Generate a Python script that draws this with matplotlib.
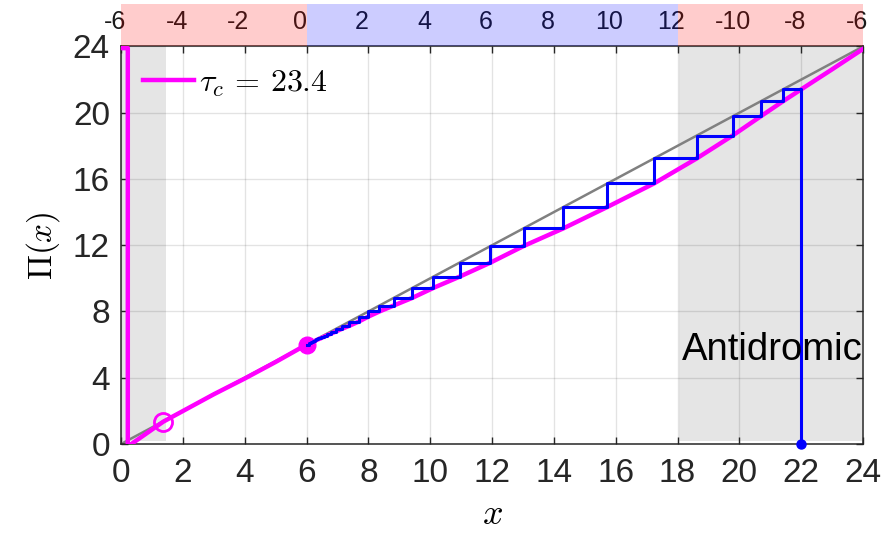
import matplotlib
matplotlib.use('Agg')
import matplotlib.pyplot as plt

plt.rcParams['font.family'] = ['Liberation Sans', 'DejaVu Sans']
plt.rcParams['mathtext.fontset'] = 'cm'

# ---------------- data ----------------
# return map Pi(x): left branch (with wrap-around jump) and right branch
curve_left_x = [0.0, 0.22, 0.22, 1.37, 3.0, 4.0, 5.0, 6.0]
curve_left_y = [23.9, 23.9, -0.15, 1.35, 3.0, 3.95, 4.95, 6.0]
curve_right_x = [6.0, 6.08, 6.1, 6.12, 6.15, 6.18, 6.22, 6.27, 6.32, 6.38, 6.46, 6.55,
                 6.66, 6.79, 6.95, 7.14, 7.39, 7.69, 8.0, 8.36, 8.82, 9.42, 10.1,
                 10.95, 11.95, 13.02, 14.31, 15.73, 17.24, 18.62, 19.78, 20.69,
                 21.41, 22.0, 23.0, 24.0]
curve_right_y = [6.0, 6.066, 6.08, 6.1, 6.12, 6.15, 6.18, 6.22, 6.27, 6.32, 6.38, 6.46,
                 6.55, 6.66, 6.79, 6.95, 7.14, 7.39, 7.69, 8.0, 8.36, 8.82, 9.42,
                 10.1, 10.95, 11.95, 13.02, 14.31, 15.73, 17.24, 18.62, 19.78,
                 20.69, 21.41, 22.62, 23.85]
# cobweb iterates x_{n+1} = Pi(x_n)
iterates = [22.0, 21.41, 20.69, 19.78, 18.62, 17.24, 15.73, 14.31, 13.02, 11.95,
            10.95, 10.1, 9.42, 8.82, 8.36, 8.0, 7.69, 7.39, 7.14, 6.95, 6.79, 6.66,
            6.55, 6.46, 6.38, 6.32, 6.27, 6.22, 6.18, 6.15, 6.12, 6.1, 6.08, 6.0]
fixed_stable = (6.0, 6.0)
fixed_unstable = (1.37, 1.3)
start_point = (22.0, 0.0)
# shaded regions (x0, x1, y0, y1)
shade_regions = [(0.0, 1.44, 0.18, 24.0), (18.06, 23.96, 0.2, 24.0)]
# top bar
top_spans = [(0, 6, 'r'), (6, 18, 'b'), (18, 24, 'r')]
top_tick_pos = [0, 2, 4, 6, 8, 10, 12, 14, 16, 18, 20, 22, 24]
top_tick_labels = ['-6', '-4', '-2', '0', '2', '4', '6', '8', '10', '12', '-10', '-8', '-6']
xticks = [0, 2, 4, 6, 8, 10, 12, 14, 16, 18, 20, 22, 24]
yticks = [0, 4, 8, 12, 16, 20, 24]
tau_label = r'$\tau_c \,=\, 23.4$'

# ---------------- figure ----------------
fig = plt.figure(figsize=(8.91, 5.33), dpi=100)
ax = fig.add_axes([0.1358, 0.167, 0.8328, 0.7458])
axt = fig.add_axes([0.1358, 0.9128, 0.8328, 0.0797])

tc = '#262626'
for (x0, x1, y0, y1) in shade_regions:
    ax.fill_between([x0, x1], [y0, y0], [y1, y1], color='#e5e5e5', lw=0, zorder=1)

ax.plot([0, 24], [0, 24], color='#808080', lw=1.8, zorder=2)
ln, = ax.plot(curve_left_x, curve_left_y, color='#ff00ff', lw=3.2, zorder=3,
              solid_joinstyle='round')
ax.plot(curve_right_x, curve_right_y, color='#ff00ff', lw=3.2, zorder=3,
        solid_joinstyle='round')
ax.plot([fixed_stable[0]], [fixed_stable[1]], 'o', color='#ff00ff', ms=12, zorder=4)
ax.plot([fixed_unstable[0]], [fixed_unstable[1]], 'o', mfc='none', mec='#ff00ff',
        ms=13, mew=2, zorder=4)

# cobweb
cw_x = [iterates[0]]
cw_y = [0.0]
for a, b in zip(iterates[:-1], iterates[1:]):
    cw_x += [a, b]
    cw_y += [b, b]
ax.plot(cw_x, cw_y, color='#0000ff', lw=2.2, zorder=5)
ax.plot([start_point[0]], [start_point[1]], 'o', color='#0000ff', ms=6.5, zorder=6,
        clip_on=False)

ax.text(18.15, 5.05, 'Antidromic', fontsize=27.5, color='k', va='baseline', ha='left',
        zorder=7)

ax.set_xlim(0, 24)
ax.set_ylim(0, 24)
ax.set_xticks(xticks)
ax.set_yticks(yticks)
ax.grid(True, color='k', alpha=0.11, lw=1.0)
ax.set_axisbelow('line')
ax.tick_params(direction='in', length=5, width=1, top=True, right=True,
               labelsize=24, colors=tc)
ax.tick_params(axis='x', pad=10)
ax.tick_params(axis='y', pad=8)
for s in ax.spines.values():
    s.set_color(tc)
    s.set_linewidth(1.1)
ax.set_xlabel('$x$', fontsize=26, labelpad=6)
ax.set_ylabel(r'$\Pi(x)$', fontsize=24, labelpad=8)

leg = ax.legend([ln], [tau_label], loc='center left', bbox_to_anchor=(0.0296, 0.906),
                frameon=False, fontsize=23, handlelength=1.6, handletextpad=0.15,
                borderpad=0, borderaxespad=0)

# top bar
axt.set_xlim(0, 24)
axt.set_ylim(0, 1)
axt.axis('off')
for (x0, x1, c) in top_spans:
    axt.axvspan(x0, x1, color=c, alpha=0.2, lw=0, zorder=3)
for p, lab in zip(top_tick_pos, top_tick_labels):
    axt.text(p - 0.2, 0.57, lab, fontsize=18, color='#1a1a1a', ha='center', va='center',
             zorder=2, clip_on=False)

fig.savefig('out.png', dpi=100)
